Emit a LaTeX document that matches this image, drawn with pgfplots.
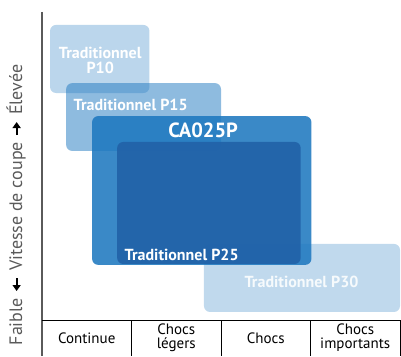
\documentclass[border=0pt]{standalone}
\usepackage{pgfplots}
\pgfplotsset{compat=1.18}
\usepackage{fontspec}
\setmainfont{PT Sans}
\usetikzlibrary{arrows.meta}
\definecolor{bleu}{RGB}{29,119,191}
\definecolor{bleufonce}{RGB}{33,98,167}
\definecolor{txtgris}{HTML}{5A5A5A}
\tikzset{
  boite/.style={draw=none, rounded corners=6pt, no markers},
  etiq/.style={text=white, font=\bfseries\fontsize{16}{16}\selectfont, align=center, inner sep=0pt},
  cat/.style={font=\fontsize{15}{13.5}\selectfont, align=center},
}
\newcommand{\fl}[1]{\tikz[baseline=-0.6ex]\draw[black, line width=2.2pt,-{Triangle[length=6pt,width=8pt]}] #1;}

\begin{document}
\begin{tikzpicture}
\begin{axis}[
  name=ax, scale only axis, width=358pt, height=308pt,
  xmin=0, xmax=4, ymin=0, ymax=10,
  axis lines=none, clip=false, xtick=\empty, ytick=\empty,
]
% rectangles (x: categories 0..4, y: vitesse 0..10)
\addplot[boite, fill=bleu, fill opacity=0.28] coordinates {(2.9,0.26) (4.0,0.26) (4.0,2.47) (1.81,2.47) (1.81,0.26)} -- cycle;
\addplot[boite, fill=bleu, fill opacity=0.30] coordinates {(0.65,7.37) (1.20,7.37) (1.20,9.58) (0.09,9.58) (0.09,7.37)} -- cycle;
\addplot[boite, fill=bleu, fill opacity=0.50] coordinates {(1.1,5.49) (2.00,5.49) (2.00,7.69) (0.27,7.69) (0.27,5.49)} -- cycle;
\addplot[boite, fill=bleu, fill opacity=0.87] coordinates {(1.8,1.79) (3.01,1.79) (3.01,6.62) (0.56,6.62) (0.56,1.79)} -- cycle;
\addplot[boite, fill=bleufonce, fill opacity=0.90] coordinates {(1.8,1.82) (2.89,1.82) (2.89,5.78) (0.84,5.78) (0.84,1.82)} -- cycle;

\node[etiq] at (axis cs:0.65,8.44) {Traditionnel\\[-1pt]P10};
\node[etiq] at (axis cs:0.99,6.98) {Traditionnel P15};
\node[etiq, font=\bfseries\fontsize{20.5}{21}\selectfont] at (axis cs:1.80,6.15) {CA025P};
\node[etiq] at (axis cs:1.56,2.11) {Traditionnel P25};
\node[etiq, text=white!96!bleu] at (axis cs:2.90,1.23) {Traditionnel P30};

% axes et tableau des categories
\draw[txtgris, line width=1.3pt] (axis cs:0,10) -- (axis cs:0,-1.17);
\draw[black, line width=0.9pt] (axis cs:0,0) -- (axis cs:4.01,0);
\draw[black, line width=0.9pt] (axis cs:1,0) -- (axis cs:1,-1.17);
\draw[black, line width=0.9pt] (axis cs:2,0) -- (axis cs:2,-1.17);
\draw[black, line width=0.9pt] (axis cs:3,0) -- (axis cs:3,-1.17);
\draw[black, line width=0.9pt] (axis cs:4,0) -- (axis cs:4,-1.17);
\node[cat] at (axis cs:0.5,-0.58) {Continue};
\node[cat] at (axis cs:1.5,-0.58) {Chocs\\légers};
\node[cat] at (axis cs:2.5,-0.58) {Chocs};
\node[cat] at (axis cs:3.5,-0.58) {Chocs\\importants};
\end{axis}

% titre de l'axe vertical
\node[rotate=90, text=txtgris, font=\fontsize{18}{19}\selectfont, inner sep=0pt]
  (lab) at ([shift={(-26pt,115pt)}]ax.south west)
  {Faible\hspace{6pt}\fl{(13pt,0)--(0,0)}\hspace{6pt}Vitesse de coupe\hspace{6pt}\fl{(0,0)--(13pt,0)}\hspace{6pt}Élevée};

\pgfresetboundingbox
\path ([shift={(-42pt,-36pt)}]ax.south west) rectangle ([shift={(1pt,12pt)}]ax.north east);
\end{tikzpicture}
\end{document}
